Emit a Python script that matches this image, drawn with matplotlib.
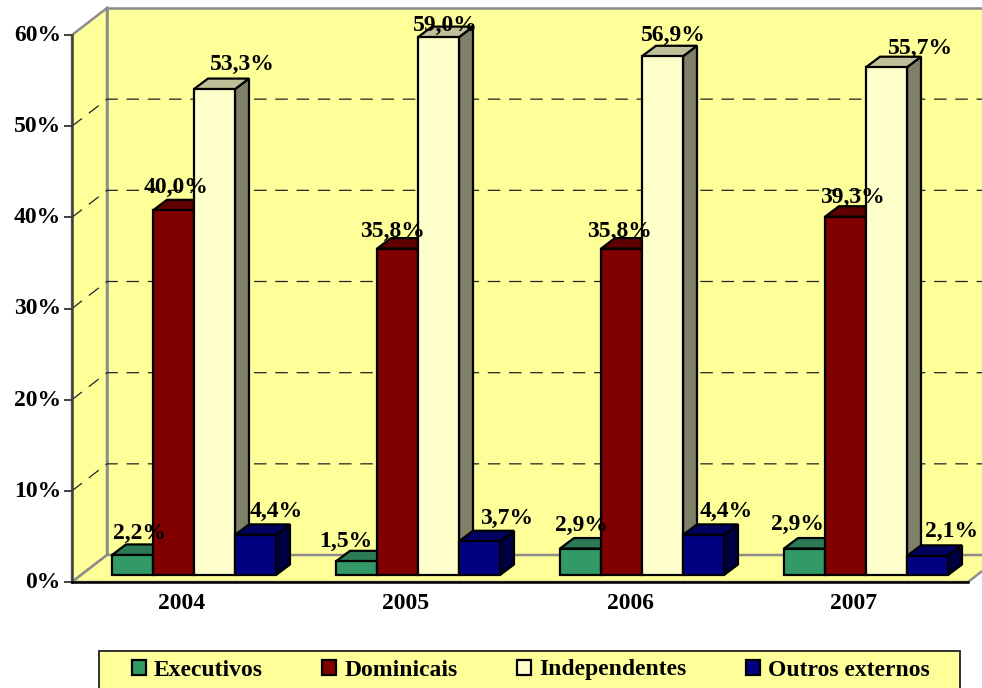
import matplotlib
matplotlib.use("Agg")
import matplotlib.pyplot as plt
from matplotlib.patches import Patch, Rectangle
from matplotlib.transforms import ScaledTranslation

years = ["2004", "2005", "2006", "2007"]
series_names = ["Executivos", "Dominicais", "Independentes", "Outros externos"]
executivos = [2.2, 1.5, 2.9, 2.9]
dominicais = [40.0, 35.8, 35.8, 39.3]
independentes = [53.3, 59.0, 56.9, 55.7]
outros = [4.4, 3.7, 4.4, 2.1]
series_values = [executivos, dominicais, independentes, outros]
y_ticks = [0, 10, 20, 30, 40, 50, 60]

# label offsets from the bar's front-top centre, in pixels (x right, y up)
label_dx = [[7, -11, 1, -7], [3, -5, -2, 7], [28, 7, 11, 34], [21, 27, 23, 24]]
label_dy = [[21, 20, 23, 24], [23, 17, 17, 19], [25, 12, 21, 19], [23, 23, 23, 24]]

face = ["#339966", "#800000", "#FFFFCC", "#000080"]
top = ["#2B7A55", "#600000", "#BFBF99", "#000060"]
side = ["#1F5A3D", "#400000", "#808066", "#000040"]
WALL = "#FFFF99"
GREY = "#8C8C8C"

W, H = 982, 688
plt.rcParams["font.family"] = ["Liberation Serif", "DejaVu Serif"]
plt.rcParams["font.weight"] = "bold"
fig = plt.figure(figsize=(W / 100, H / 100), dpi=100)

# plot frame in pixels
L, R, Y0, Y60 = 72, 968, 582, 35
ax = fig.add_axes([L / W, 1 - Y0 / H, (R - L) / W, (Y0 - Y60) / H])
ax.set_xlim(-0.5, 3.5)
ax.set_ylim(0, 60)
ax.patch.set_visible(False)

px_x = 4 / (R - L)            # data x per pixel
px_y = 60 / (Y0 - Y60)        # data y per pixel
wall_dx, wall_dy = 35 * px_x, 27 * px_y
bar_dx, bar_dy = 14 * px_x, 10.5 * px_y
bar_w = 41 * px_x
bar_base = 7 * px_y
group_shift = 10 * px_x

x0, x1 = -0.5, 3.5
# walls and floor
ax.fill([x0 + wall_dx, x1 + wall_dx, x1 + wall_dx, x0 + wall_dx],
        [wall_dy, wall_dy, 60 + wall_dy, 60 + wall_dy],
        fc=WALL, ec=GREY, lw=1.8, clip_on=False, zorder=1)
ax.fill([x0, x0 + wall_dx, x0 + wall_dx, x0],
        [0, wall_dy, 60 + wall_dy, 60],
        fc=WALL, ec=GREY, lw=1.8, clip_on=False, zorder=1)
ax.fill([x0, x1, x1 + wall_dx, x0 + wall_dx],
        [0, 0, wall_dy, wall_dy],
        fc=WALL, ec=GREY, lw=1.8, clip_on=False, zorder=1)

# dashed gridlines along left wall and back wall
for t in y_ticks[1:-1]:
    ax.plot([x0, x0 + wall_dx, x1 + wall_dx], [t, t + wall_dy, t + wall_dy],
            color="#222222", lw=0.9, ls=(0, (10, 7)), clip_on=False, zorder=2)

# 3D-looking bars
z = 3
for s, vals in enumerate(series_values):
    for g, v in enumerate(vals):
        xl = g + group_shift + (s - 2) * bar_w
        xr = xl + bar_w
        yb, yt = bar_base, bar_base + v
        ax.fill([xr, xr + bar_dx, xr + bar_dx, xr],
                [yb, yb + bar_dy, yt + bar_dy, yt],
                fc=side[s], ec="black", lw=1.6, clip_on=False, zorder=z)
        ax.fill([xl, xr, xr + bar_dx, xl + bar_dx],
                [yt, yt, yt + bar_dy, yt + bar_dy],
                fc=top[s], ec="black", lw=1.6, clip_on=False, zorder=z)
        ax.bar(xl, v, width=bar_w, bottom=yb, align="edge", color=face[s],
               edgecolor="black", linewidth=1.6, zorder=z + 0.5, clip_on=False)
        ax.annotate(f"{v:.1f}%".replace(".", ","),
                    (xl + bar_w / 2, yt),
                    xytext=(label_dx[s][g], label_dy[s][g]),
                    textcoords="offset pixels", ha="center", va="center",
                    fontsize=17, fontweight="bold", color="black",
                    zorder=20, annotation_clip=False)
    z += 1

# axes
for sp in ("top", "right"):
    ax.spines[sp].set_visible(False)
ax.spines["left"].set_color("#404040")
ax.spines["left"].set_linewidth(1.8)
ax.spines["bottom"].set_color("black")
ax.spines["bottom"].set_linewidth(1.8)
ax.spines["left"].set_zorder(10)
ax.spines["bottom"].set_zorder(10)
ax.set_yticks(y_ticks)
ax.set_yticklabels([f"{t}%" for t in y_ticks], fontsize=17, fontweight="bold")
ax.set_xticks(range(len(years)))
ax.set_xticklabels(years, fontsize=17, fontweight="bold")
ax.tick_params(axis="y", length=6, width=1.4, color="#404040", pad=2)
ax.tick_params(axis="x", length=0, pad=8)
for lab in ax.get_yticklabels():
    lab.set_transform(lab.get_transform() + ScaledTranslation(0, 2 / 100, fig.dpi_scale_trans))
for lab in ax.get_xticklabels():
    lab.set_transform(lab.get_transform() + ScaledTranslation(-2 / 100, 0, fig.dpi_scale_trans))

# legend
fig.add_artist(Rectangle((99 / W, -0.02), (960 - 99) / W, 1 - 651 / H + 0.02,
                         transform=fig.transFigure, fc=WALL, ec="#303030", lw=1.4))
handles = [Patch(fc=face[i], ec="black", lw=1.6) for i in range(4)]
fig.legend(handles, series_names, loc="center left",
           bbox_to_anchor=(131.5 / W, 1 - 670 / H), ncol=4, frameon=False,
           prop={"family": "Liberation Serif", "weight": "bold", "size": 17},
           handlelength=0.6, handleheight=0.6, handletextpad=0.34,
           columnspacing=2.52, borderpad=0, borderaxespad=0)

fig.savefig("out.png", dpi=100)
